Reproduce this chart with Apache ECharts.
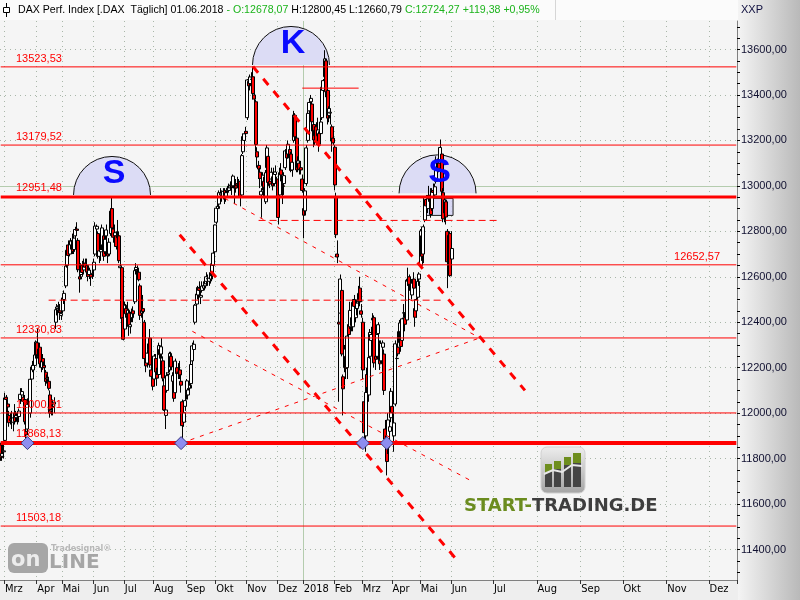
<!DOCTYPE html>
<html>
<head>
<meta charset="utf-8">
<title>DAX Perf. Index</title>
<script src="https://cdn.jsdelivr.net/npm/echarts@6.0.0/dist/echarts.min.js"></script>
<style>
html,body{margin:0;padding:0;background:#f5f5f5;}
#chart{width:800px;height:600px;}
</style>
</head>
<body>
<div id="chart"></div>
<script>
// Daily candles: [date, open, high, low, close]
const candles = [
['2017-02-24',11860,11870,11790,11804],['2017-02-27',11810,11860,11790,11822],['2017-02-28',11830,11880,11800,11834],
['2017-03-01',11880,12090,11875,12067],['2017-03-02',12070,12080,12020,12060],['2017-03-03',12040,12060,11990,12027],
['2017-03-06',11990,12010,11940,11958],['2017-03-07',11975,12000,11950,11967],['2017-03-08',11970,12010,11930,11967],
['2017-03-09',11960,11990,11920,11979],['2017-03-10',12000,12040,11950,11963],['2017-03-13',11980,12010,11960,11990],
['2017-03-14',11990,12000,11950,11988],['2017-03-15',11985,12020,11960,12009],['2017-03-16',12060,12110,12040,12083],
['2017-03-17',12080,12110,12060,12095],['2017-03-20',12070,12080,12030,12052],['2017-03-21',12060,12080,11950,11962],
['2017-03-22',11920,11950,11870,11904],['2017-03-23',11930,12050,11920,12039],['2017-03-24',12040,12090,12020,12064],
['2017-03-27',12000,12160,11980,12149],['2017-03-28',12150,12210,12120,12203],['2017-03-29',12190,12230,12180,12210],
['2017-03-30',12210,12270,12190,12256],['2017-03-31',12260,12320,12240,12313],
['2017-04-03',12310,12375,12240,12257],['2017-04-04',12250,12300,12220,12282],['2017-04-05',12290,12310,12200,12217],
['2017-04-06',12200,12250,12180,12230],['2017-04-07',12240,12260,12190,12225],['2017-04-10',12210,12230,12170,12200],
['2017-04-11',12180,12190,12120,12139],['2017-04-12',12150,12170,12130,12154],['2017-04-13',12140,12160,12100,12109],
['2017-04-18',12080,12100,11980,12000],['2017-04-19',12010,12060,11990,12016],['2017-04-20',12030,12060,11990,12027],
['2017-04-21',12040,12070,12000,12048],['2017-04-24',12400,12460,12370,12455],['2017-04-25',12460,12480,12430,12467],
['2017-04-26',12470,12490,12440,12472],['2017-04-27',12450,12480,12410,12443],['2017-04-28',12430,12470,12410,12438],
['2017-05-02',12450,12520,12440,12507],['2017-05-03',12500,12540,12480,12527],['2017-05-04',12560,12660,12550,12647],
['2017-05-05',12650,12720,12640,12717],['2017-05-08',12740,12760,12680,12694],['2017-05-09',12700,12760,12690,12749],
['2017-05-10',12740,12770,12720,12757],['2017-05-11',12760,12790,12700,12711],['2017-05-12',12720,12780,12700,12770],
['2017-05-15',12780,12820,12760,12808],['2017-05-16',12810,12840,12780,12804],['2017-05-17',12760,12770,12620,12631],
['2017-05-18',12600,12640,12530,12590],['2017-05-19',12610,12660,12590,12638],['2017-05-22',12650,12670,12600,12619],
['2017-05-23',12630,12680,12610,12659],['2017-05-24',12660,12680,12620,12642],['2017-05-25',12650,12680,12600,12621],
['2017-05-26',12620,12650,12580,12602],['2017-05-29',12610,12640,12590,12629],['2017-05-30',12610,12630,12560,12599],
['2017-05-31',12610,12660,12590,12615],
['2017-06-01',12630,12680,12600,12664],['2017-06-02',12700,12840,12690,12823],['2017-06-05',12810,12830,12780,12822],
['2017-06-06',12790,12800,12680,12690],['2017-06-07',12690,12740,12660,12714],['2017-06-08',12710,12740,12670,12720],
['2017-06-09',12740,12830,12720,12815],['2017-06-12',12780,12790,12670,12690],['2017-06-13',12710,12780,12700,12765],
['2017-06-14',12780,12830,12760,12806],['2017-06-15',12730,12750,12660,12692],['2017-06-16',12700,12770,12690,12752],
['2017-06-19',12790,12900,12780,12889],['2017-06-20',12900,12951,12800,12815],['2017-06-21',12810,12830,12750,12774],
['2017-06-22',12780,12830,12760,12794],['2017-06-23',12780,12800,12720,12733],['2017-06-26',12780,12850,12760,12771],
['2017-06-27',12780,12800,12660,12671],['2017-06-28',12640,12680,12580,12647],['2017-06-29',12640,12650,12400,12416],
['2017-06-30',12420,12440,12320,12325],
['2017-07-03',12370,12490,12360,12475],['2017-07-04',12460,12480,12420,12437],['2017-07-05',12430,12490,12410,12453],
['2017-07-06',12440,12460,12340,12381],['2017-07-07',12380,12420,12350,12389],['2017-07-10',12420,12460,12400,12445],
['2017-07-11',12450,12470,12400,12437],['2017-07-12',12490,12640,12480,12627],['2017-07-13',12630,12660,12610,12641],
['2017-07-14',12630,12650,12600,12632],['2017-07-17',12620,12640,12580,12587],['2017-07-18',12560,12570,12410,12430],
['2017-07-19',12440,12480,12420,12452],['2017-07-20',12460,12520,12400,12447],['2017-07-21',12400,12410,12220,12240],
['2017-07-24',12230,12260,12180,12208],['2017-07-25',12220,12290,12200,12264],['2017-07-26',12280,12330,12260,12305],
['2017-07-27',12330,12370,12200,12212],['2017-07-28',12190,12220,12130,12162],['2017-07-31',12160,12190,12100,12118],
['2017-08-01',12150,12260,12140,12251],['2017-08-02',12240,12260,12160,12181],['2017-08-03',12170,12200,12120,12154],
['2017-08-04',12170,12310,12160,12297],['2017-08-07',12280,12300,12240,12257],['2017-08-08',12260,12330,12240,12292],
['2017-08-09',12230,12250,12140,12154],['2017-08-10',12120,12150,12010,12014],['2017-08-11',11990,12040,11930,12014],
['2017-08-14',12100,12180,12090,12165],['2017-08-15',12170,12210,12150,12177],['2017-08-16',12190,12270,12180,12263],
['2017-08-17',12250,12270,12190,12203],['2017-08-18',12140,12180,12100,12165],['2017-08-21',12140,12160,12050,12065],
['2017-08-22',12090,12240,12080,12229],['2017-08-23',12200,12220,12150,12174],['2017-08-24',12180,12220,12150,12180],
['2017-08-25',12190,12230,12150,12168],['2017-08-28',12140,12170,12090,12123],['2017-08-29',12050,12060,11868,11945],
['2017-08-30',11960,12020,11940,12002],['2017-08-31',12030,12080,12010,12055],
['2017-09-01',12080,12150,12060,12142],['2017-09-04',12080,12110,12060,12102],['2017-09-05',12110,12140,12090,12123],
['2017-09-06',12130,12230,12110,12214],['2017-09-07',12230,12310,12210,12296],['2017-09-08',12280,12320,12270,12303],
['2017-09-11',12400,12480,12390,12475],['2017-09-12',12480,12530,12460,12524],['2017-09-13',12520,12560,12500,12553],
['2017-09-14',12550,12580,12510,12540],['2017-09-15',12510,12540,12480,12518],['2017-09-18',12540,12580,12530,12559],
['2017-09-19',12550,12580,12540,12561],['2017-09-20',12560,12590,12540,12569],['2017-09-21',12580,12620,12560,12600],
['2017-09-22',12590,12610,12560,12592],['2017-09-25',12580,12620,12560,12594],['2017-09-26',12590,12630,12570,12605],
['2017-09-27',12610,12670,12580,12657],['2017-09-28',12650,12710,12620,12704],['2017-09-29',12710,12830,12700,12828],
['2017-10-02',12840,12910,12830,12902],['2017-10-03',12900,12920,12880,12910],['2017-10-04',12920,12980,12900,12970],
['2017-10-05',12960,12990,12950,12968],['2017-10-06',12960,12980,12930,12955],['2017-10-09',12950,12990,12940,12976],
['2017-10-10',12980,12990,12920,12949],['2017-10-11',12950,12980,12930,12970],['2017-10-12',12990,13000,12960,12982],
['2017-10-13',12980,13010,12970,12991],['2017-10-16',13000,13020,12980,13003],['2017-10-17',13000,13010,12960,12995],
['2017-10-18',13000,13050,12990,13043],['2017-10-19',13000,13010,12920,12990],['2017-10-20',13000,13030,12970,12991],
['2017-10-23',13010,13040,12990,13003],['2017-10-24',13000,13030,12960,13013],['2017-10-25',13020,13030,12910,12953],
['2017-10-26',12960,13140,12950,13133],['2017-10-27',13150,13230,13140,13217],['2017-10-30',13200,13240,13180,13229],
['2017-10-31',13240,13260,13200,13230],
['2017-11-01',13300,13470,13290,13466],['2017-11-02',13460,13480,13400,13440],['2017-11-03',13450,13490,13420,13479],
['2017-11-06',13470,13500,13440,13468],['2017-11-07',13480,13525,13380,13406],['2017-11-08',13400,13420,13340,13382],
['2017-11-09',13370,13380,13150,13182],['2017-11-10',13150,13170,13080,13127],['2017-11-13',13090,13110,13030,13074],
['2017-11-14',13060,13080,12990,13033],['2017-11-15',12960,12990,12860,12976],['2017-11-16',13000,13060,12980,13047],
['2017-11-17',13020,13040,12950,12994],['2017-11-20',12930,13070,12920,13058],['2017-11-21',13080,13180,13070,13167],
['2017-11-22',13130,13140,13000,13015],['2017-11-23',13020,13040,12990,13008],['2017-11-24',13030,13080,13010,13060],
['2017-11-27',13040,13050,12980,13000],['2017-11-28',13010,13080,13000,13060],['2017-11-29',13050,13090,13010,13061],
['2017-11-30',13020,13040,12970,13024],
['2017-12-01',13030,13050,12830,12861],['2017-12-04',12960,13080,12950,13058],['2017-12-05',13070,13100,13020,13048],
['2017-12-06',13000,13020,12920,12998],['2017-12-07',13010,13060,12960,13045],['2017-12-08',13080,13160,13070,13154],
['2017-12-11',13160,13170,13110,13123],['2017-12-12',13140,13200,13120,13183],['2017-12-13',13160,13170,13110,13126],
['2017-12-14',13140,13150,13060,13068],['2017-12-15',13070,13120,13040,13104],['2017-12-18',13200,13330,13190,13312],
['2017-12-19',13310,13320,13200,13216],['2017-12-20',13210,13220,13060,13070],['2017-12-21',13080,13130,13060,13110],
['2017-12-22',13100,13110,13050,13073],['2017-12-27',13080,13110,13050,13070],['2017-12-28',13030,13050,12970,12980],
['2018-01-02',12900,12950,12770,12871],['2018-01-03',12890,12990,12870,12978],['2018-01-04',13010,13180,13000,13167],
['2018-01-05',13200,13330,13190,13319],['2018-01-08',13330,13380,13300,13367],['2018-01-09',13370,13400,13340,13385],
['2018-01-10',13360,13370,13240,13282],['2018-01-11',13270,13290,13170,13202],['2018-01-12',13220,13260,13180,13245],
['2018-01-15',13260,13280,13180,13200],['2018-01-16',13220,13300,13200,13246],['2018-01-17',13230,13240,13150,13183],
['2018-01-18',13230,13300,13220,13281],['2018-01-19',13300,13440,13290,13434],['2018-01-22',13420,13470,13400,13463],
['2018-01-23',13480,13597,13470,13559],['2018-01-24',13550,13560,13390,13414],['2018-01-25',13420,13440,13270,13298],
['2018-01-26',13310,13350,13280,13340],['2018-01-29',13320,13340,13270,13324],['2018-01-30',13260,13270,13150,13197],
['2018-01-31',13210,13260,13180,13189],
['2018-02-01',13170,13180,12980,13004],['2018-02-02',12950,12970,12770,12785],['2018-02-05',12700,12760,12660,12687],
['2018-02-06',12400,12500,12050,12392],['2018-02-07',12440,12610,12420,12590],['2018-02-08',12540,12550,12250,12260],
['2018-02-09',12160,12170,11990,12107],['2018-02-12',12200,12300,12180,12282],['2018-02-13',12250,12280,12150,12196],
['2018-02-14',12200,12350,12150,12339],['2018-02-15',12390,12430,12300,12346],['2018-02-16',12380,12490,12370,12452],
['2018-02-19',12420,12440,12360,12385],['2018-02-20',12380,12500,12360,12488],['2018-02-21',12500,12520,12440,12470],
['2018-02-22',12420,12470,12400,12461],['2018-02-23',12460,12500,12430,12484],['2018-02-26',12490,12560,12480,12527],
['2018-02-27',12550,12600,12470,12490],['2018-02-28',12450,12480,12420,12435],
['2018-03-01',12400,12420,12150,12190],['2018-03-02',12050,12060,11867,11914],['2018-03-05',11900,12120,11830,12091],
['2018-03-06',12170,12200,12090,12113],['2018-03-07',12080,12260,12050,12245],['2018-03-08',12250,12370,12240,12355],
['2018-03-09',12320,12380,12280,12346],['2018-03-12',12410,12440,12380,12418],['2018-03-13',12420,12430,12200,12221],
['2018-03-14',12250,12290,12190,12237],['2018-03-15',12250,12350,12240,12346],['2018-03-16',12350,12400,12320,12389],
['2018-03-19',12300,12320,12190,12217],['2018-03-20',12230,12320,12220,12307],['2018-03-21',12290,12320,12260,12309],
['2018-03-22',12260,12280,12080,12100],['2018-03-23',11930,11970,11860,11886],['2018-03-26',11900,11910,11726,11787],
['2018-03-27',11850,12000,11820,11970],['2018-03-28',11920,11970,11860,11940],['2018-03-29',11980,12110,11960,12096],
['2018-04-03',12030,12080,11930,12002],['2018-04-04',11900,12000,11830,11957],['2018-04-05',12040,12320,12030,12305],
['2018-04-06',12240,12270,12180,12241],['2018-04-09',12290,12360,12250,12261],['2018-04-10',12310,12410,12300,12397],
['2018-04-11',12360,12370,12270,12293],['2018-04-12',12320,12420,12310,12415],['2018-04-13',12440,12480,12420,12442],
['2018-04-16',12420,12440,12360,12391],['2018-04-17',12410,12590,12400,12585],['2018-04-18',12580,12640,12560,12590],
['2018-04-19',12600,12610,12540,12567],['2018-04-20',12560,12600,12520,12540],['2018-04-23',12520,12590,12500,12572],
['2018-04-24',12590,12620,12540,12550],['2018-04-25',12460,12480,12380,12422],['2018-04-26',12450,12510,12420,12500],
['2018-04-27',12510,12600,12500,12580],['2018-04-30',12590,12620,12560,12612],
['2018-05-02',12650,12810,12640,12802],['2018-05-03',12780,12800,12670,12690],['2018-05-04',12700,12830,12660,12820],
['2018-05-07',12850,12950,12840,12949],['2018-05-08',12940,12960,12870,12912],['2018-05-09',12900,12960,12880,12943],
['2018-05-10',12950,13000,12930,12955],['2018-05-11',12960,12990,12860,12874],['2018-05-14',12900,12990,12890,12978],
['2018-05-15',12980,13010,12940,12971],['2018-05-16',12960,13010,12950,12996],['2018-05-17',13020,13130,13010,13114],
['2018-05-18',13110,13120,13050,13078],['2018-05-21',13100,13130,13060,13077],['2018-05-22',13100,13204,13090,13169],
['2018-05-23',13140,13150,12930,12976],['2018-05-24',12970,12990,12840,12855],['2018-05-25',12880,12950,12840,12938],
['2018-05-28',12930,12940,12830,12863],['2018-05-29',12800,12810,12550,12666],['2018-05-30',12650,12800,12620,12783],
['2018-05-31',12790,12800,12600,12604.89],
['2018-06-01',12678.07,12800.45,12660.79,12724.27]
];

// Horizontal support/resistance levels (solid red)
const levelValues = [13523.53, 13179.52, 12951.48, 12652.57, 12330.83, 12000.81, 11868.13, 11503.18];
// Y axis tick labels
const yTickLabels = [11400, 11600, 11800, 12000, 12200, 12400, 12600, 12800, 13000, 13200, 13400, 13600];
// Channel lines (thick dashed): [start, end] as [date, value]
const channelLines = [
  [['2017-11-07', 13525], ['2018-07-23', 12100]],
  [['2017-08-25', 12785], ['2018-06-05', 11352]]
];
// Triangle lines (thin dashed)
const triangleLines = [
  [['2017-10-10', 12945], ['2018-06-21', 12331]],
  [['2017-08-28', 11868], ['2018-06-21', 12331]],
  [['2017-09-07', 12360], ['2018-06-14', 11705]]
];
// Partial horizontal dashed lines
const dashedLevels = [
  [['2017-04-13', 12497], ['2018-05-24', 12497]],
  [['2017-11-13', 12848], ['2018-07-05', 12848]]
];
// Short solid line
const shortLevel = [['2017-12-28', 13430], ['2018-02-26', 13430]];
// Diamond markers on the 11868 support
const diamonds = [['2017-03-23', 11868.13], ['2017-08-28', 11868.13], ['2018-03-01', 11868.13], ['2018-03-26', 11868.13]];
// Head & shoulders markers (semicircle base) + letters
const hsMarks = [['2017-06-20', 12960], ['2017-12-14', 13532], ['2018-05-18', 12967]];
const hsLetters = ['S', 'K', 'S'];
// Box
const boxArea = [['2018-05-08', 12945], ['2018-06-02', 12870]];

// ---- build categories (trading days + future calendar days) ----
const histDates = candles.map(r => r[0]);
const futureDates = [];
for (let t = Date.UTC(2018, 5, 2); t <= Date.UTC(2018, 11, 20); t += 86400000) {
  futureDates.push(new Date(t).toISOString().slice(0, 10));
}
const categories = histDates.concat(futureDates);
const monthNames = ['', 'Feb', 'Mrz', 'Apr', 'Mai', 'Jun', 'Jul', 'Aug', 'Sep', 'Okt', 'Nov', 'Dez'];
const isMonthStart = categories.map((d, i) => i > 0 && d.slice(0, 7) !== categories[i - 1].slice(0, 7));
const monthLabel = d => { const m = +d.slice(5, 7); return m === 1 ? d.slice(0, 4) : monthNames[m - 1]; };
const fmt = v => v.toFixed(2).replace('.', ',');

const candleData = candles.map(r => [r[1], r[4], r[3], r[2]]);

const yMin = 11265.8, yMax = 13725.4;
const tick50 = [];
for (let v = 11300; v <= 13700; v += 50) tick50.push(v);

const last = candles[candles.length - 1], prev = candles[candles.length - 2];
const chg = last[4] - prev[4];
const pct = chg / prev[4] * 100;
const dParts = last[0].split('-');
const headerText = '{k|DAX Perf. Index [.DAX  Täglich] ' + dParts[2] + '.' + dParts[1] + '.' + dParts[0] + ' }' +
  '{g|- O:' + fmt(last[1]) + ' }{k|H:' + fmt(last[2]) + ' L:' + fmt(last[3]) + ' }' +
  '{g|C:' + fmt(last[4]) + ' +' + fmt(chg) + ' +' + fmt(pct) + '%}';

const FONT = '"Liberation Sans", Arial, sans-serif';
const RED = '#ff0000';
const levelWidth = v => (v === 12951.48 ? 3 : v === 11868.13 ? 4 : 1);
const firstCat = categories[0], lastCat = categories[categories.length - 1];

const series = [];
// grid helper (dotted horizontal lines + green lines)
series.push({
  type: 'line', data: [], silent: true, z: 1, color: '#a9b7a9',
  markLine: {
    silent: true, symbol: 'none', z: 1, animation: false,
    label: { show: false },
    lineStyle: { color: '#a9b7a9', type: [1, 4], width: 1 },
    data: yTickLabels.filter(v => v !== 13000).map(v => ({ yAxis: v }))
  }
});
series.push({
  type: 'line', data: [], silent: true, z: 1, color: '#b4ccae',
  markLine: {
    silent: true, symbol: 'none', z: 1, animation: false,
    label: { show: false },
    lineStyle: { color: '#b4ccae', type: 'solid', width: 1 },
    data: [{ yAxis: 13000 }, { xAxis: '2018-01-02' }]
  }
});
// semicircles
series.push({
  type: 'custom', silent: true, z: 1, data: hsMarks,
  renderItem: (params, api) => {
    const p = api.coord([api.value(0), api.value(1)]);
    const r = 38.5;
    return { type: 'group', children: [
      { type: 'sector', shape: { cx: p[0], cy: p[1], r: r, r0: 0, startAngle: Math.PI, endAngle: Math.PI * 2, clockwise: true }, style: { fill: '#dcdcf5' } },
      { type: 'arc', shape: { cx: p[0], cy: p[1], r: r, startAngle: Math.PI, endAngle: Math.PI * 2, clockwise: true }, style: { stroke: '#111', lineWidth: 1, fill: null } }
    ]};
  }
});
// box
series.push({
  type: 'line', data: [], silent: true, z: 1,
  markArea: { silent: true, z: 1, itemStyle: { color: 'rgba(210,210,245,0.85)', borderColor: '#222', borderWidth: 1 },
    data: [[{ coord: boxArea[0] }, { coord: boxArea[1] }]] }
});
// candles
series.push({
  type: 'candlestick', data: candleData, barWidth: 3.5, z: 3, silent: true,
  itemStyle: { color: '#ffffff', color0: '#ff0000', borderColor: '#000000', borderColor0: '#000000', borderWidth: 1 }
});
// level lines as plain line series spanning the whole axis
levelValues.forEach(v => {
  series.push({
    type: 'line', data: [[firstCat, v], [lastCat, v]], symbol: 'none', silent: true, z: 5, color: RED,
    lineStyle: { color: RED, type: 'solid', width: levelWidth(v) }
  });
});
// dashed partial horizontals
dashedLevels.forEach(seg => series.push({
  type: 'line', data: seg, symbol: 'none', silent: true, z: 5, color: RED,
  lineStyle: { color: RED, width: 1, type: [7, 4] }
}));
series.push({ type: 'line', data: shortLevel, symbol: 'none', silent: true, z: 5, color: RED, lineStyle: { color: RED, width: 1 } });
// channel
channelLines.forEach(seg => series.push({
  type: 'line', data: seg, symbol: 'none', silent: true, z: 6, color: RED,
  lineStyle: { color: RED, width: 3, type: [8, 8] }
}));
// triangle
triangleLines.forEach(seg => series.push({
  type: 'line', data: seg, symbol: 'none', silent: true, z: 6, color: RED,
  lineStyle: { color: RED, width: 1, type: [4, 6] }
}));
// diamonds
series.push({
  type: 'scatter', data: diamonds, symbol: 'diamond', symbolSize: [13, 13], silent: true, z: 7,
  itemStyle: { color: '#8d8df0', borderColor: '#3a3a80', borderWidth: 1, opacity: 1 }
});
// letters
series.push({
  type: 'custom', silent: true, z: 8, data: hsMarks,
  renderItem: (params, api) => {
    const p = api.coord([api.value(0), api.value(1)]);
    return { type: 'text', style: { text: hsLetters[params.dataIndex], x: p[0] + 2, y: p[1] - 21,
      fill: '#0a0aff', font: 'bold 34px ' + FONT, align: 'center', verticalAlign: 'middle' } };
  }
});

const graphic = [
  { type: 'rect', z: -10, silent: true, shape: { x: 0, y: 0, width: 800, height: 20 }, style: { fill: '#fbfbfb' } },
  { type: 'rect', z: -10, silent: true, shape: { x: 0, y: 581, width: 738, height: 19 }, style: { fill: '#eeeeee' } },
  { type: 'rect', z: -10, silent: true, shape: { x: 738, y: 0, width: 62, height: 600 },
    style: { fill: new echarts.graphic.LinearGradient(0, 0, 1, 0, [{ offset: 0, color: '#f4f4f4' }, { offset: 1, color: '#b9b9b9' }]) } },
  { type: 'line', z: -5, silent: true, shape: { x1: 555.5, y1: 0, x2: 555.5, y2: 20 }, style: { stroke: '#d6d6d6', lineWidth: 1 } },
  // header icon
  { type: 'line', z: 10, silent: true, shape: { x1: 6.5, y1: 3, x2: 6.5, y2: 17 }, style: { stroke: '#000', lineWidth: 1 } },
  { type: 'rect', z: 10, silent: true, shape: { x: 3.5, y: 7.5, width: 6, height: 5 }, style: { fill: '#fff', stroke: '#000', lineWidth: 1 } },
  { type: 'text', z: 10, silent: true, x: 18, y: 10,
    style: { text: headerText, verticalAlign: 'middle',
      rich: { k: { fill: '#000000', font: '10.6px ' + FONT }, g: { fill: '#1cb41c', font: '10.6px ' + FONT } } } },
  { type: 'text', z: 10, silent: true, x: 741, y: 10, style: { text: 'XXP', fill: '#101040', font: '11px ' + FONT, verticalAlign: 'middle' } },
  // Tradesignal online logo
  { type: 'rect', z: 10, silent: true, shape: { x: 8, y: 543, width: 40, height: 30, r: 6 }, style: { fill: '#a6a6a6' } },
  { type: 'text', z: 11, silent: true, x: 11, y: 561, style: { text: 'on', fill: '#ececec', font: 'bold 21px "DejaVu Sans", sans-serif', verticalAlign: 'middle' } },
  { type: 'text', z: 11, silent: true, x: 49, y: 563, style: { text: 'LINE', fill: '#a6a6a6', font: 'bold 20px "DejaVu Sans", sans-serif', verticalAlign: 'middle' } },
  { type: 'text', z: 11, silent: true, x: 51, y: 549, style: { text: 'Tradesignal®', fill: '#b8b8b8', font: 'bold 8px "DejaVu Sans", sans-serif', verticalAlign: 'middle' } },
  // START-TRADING logo
  { type: 'rect', z: 10, silent: true, shape: { x: 541, y: 447, width: 44, height: 46, r: 6 },
    style: { fill: new echarts.graphic.LinearGradient(0, 0, 0, 1, [{ offset: 0, color: '#eeeeee' }, { offset: 1, color: '#a4a4a4' }]), stroke: '#d0d0d0', lineWidth: 1 } },
  { type: 'rect', z: 11, silent: true, shape: { x: 545, y: 464, width: 7, height: 23 }, style: { fill: '#454545' } },
  { type: 'rect', z: 11, silent: true, shape: { x: 554, y: 461, width: 7, height: 26 }, style: { fill: '#454545' } },
  { type: 'rect', z: 11, silent: true, shape: { x: 564, y: 457, width: 7, height: 30 }, style: { fill: '#454545' } },
  { type: 'rect', z: 11, silent: true, shape: { x: 573, y: 453, width: 8, height: 34 }, style: { fill: '#454545' } },
  { type: 'rect', z: 12, silent: true, shape: { x: 545, y: 464, width: 7, height: 8 }, style: { fill: '#6e8e1e' } },
  { type: 'rect', z: 12, silent: true, shape: { x: 554, y: 461, width: 7, height: 8 }, style: { fill: '#6e8e1e' } },
  { type: 'rect', z: 12, silent: true, shape: { x: 564, y: 457, width: 7, height: 8 }, style: { fill: '#6e8e1e' } },
  { type: 'rect', z: 12, silent: true, shape: { x: 573, y: 453, width: 8, height: 10 }, style: { fill: '#6e8e1e' } },
  { type: 'polyline', z: 13, silent: true, shape: { points: [[544, 474], [553, 470], [562, 472], [572, 465], [582, 466]] }, style: { stroke: '#e8e8e8', lineWidth: 2, fill: null } },
  { type: 'text', z: 11, silent: true, x: 464, y: 506,
    style: { text: '{g|START-}{d|TRADING.DE}', verticalAlign: 'middle',
      rich: { g: { fill: '#6b8c1f', font: 'bold 18px "DejaVu Sans", sans-serif' }, d: { fill: '#3e3e3e', font: 'bold 18px "DejaVu Sans", sans-serif' } } } }
];

const chart = echarts.init(document.getElementById('chart'), null, { renderer: 'canvas' });
chart.setOption({
  animation: false,
  backgroundColor: '#f5f5f5',
  textStyle: { fontFamily: FONT },
  grid: { left: 0, top: 21, width: 737, height: 559, containLabel: false },
  xAxis: {
    type: 'category', data: categories, boundaryGap: true,
    axisLine: { show: true, lineStyle: { color: '#808080', width: 1 } },
    axisTick: { show: true, interval: (i) => isMonthStart[i], length: 4, lineStyle: { color: '#333' } },
    axisLabel: { show: true, interval: (i) => isMonthStart[i], formatter: (v) => monthLabel(v), align: 'left', margin: 4,
      fontSize: 11, color: '#000', fontFamily: '"Liberation Sans Narrow", "DejaVu Sans Condensed", sans-serif' },
    splitLine: { show: true, interval: (i) => isMonthStart[i], lineStyle: { color: '#a9b7a9', type: [1, 4], width: 1 } }
  },
  yAxis: {
    type: 'value', position: 'right', min: yMin, max: yMax, scale: true,
    axisLine: { show: true, lineStyle: { color: '#808080', width: 1 } },
    axisTick: { show: true, customValues: tick50, length: 3, lineStyle: { color: '#000' } },
    axisLabel: { show: true, customValues: yTickLabels, formatter: (v) => fmt(v), color: '#101030', fontSize: 11, margin: 4, fontFamily: FONT },
    splitLine: { show: false }
  },
  series: series
});

// level labels placed through the value axis scale
const levelLabels = levelValues.map(v => {
  const y = chart.convertToPixel({ yAxisIndex: 0 }, v);
  const right = v === 12652.57;
  return { type: 'text', z: 9, silent: true, x: right ? 720 : 16, y: y - (levelWidth(v) > 1 ? 9 : 8),
    style: { text: fmt(v), fill: RED, font: '11px ' + FONT, align: right ? 'right' : 'left', verticalAlign: 'middle' } };
});
chart.setOption({ graphic: graphic.concat(levelLabels) });
</script>
</body>
</html>
